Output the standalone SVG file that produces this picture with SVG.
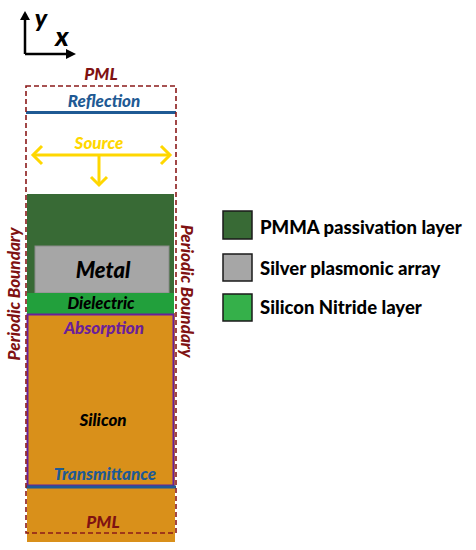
<svg xmlns="http://www.w3.org/2000/svg" width="476" height="550" viewBox="0 0 476 550">
<style>
.lbl{font-family:Lato,"Open Sans","Liberation Sans",sans-serif;font-weight:900;font-style:italic;text-anchor:middle}
.leg{font-family:Lato,"Open Sans","Liberation Sans",sans-serif;font-weight:900;font-size:18.5px;fill:#000}
.pml{fill:#7f1212}
.dash{fill:none;stroke:#8b1a1a;stroke-width:1.6;stroke-dasharray:5,3}
.sq{stroke:#1a1a1a;stroke-width:1.5}
</style>
<rect width="476" height="550" fill="#fff"/>
<g id="axes">
<path d="M25,54 V14 M25,54 H72" fill="none" stroke="#000" stroke-width="2.5"/>
<path d="M20,20 L25,11 L30,20 Z" fill="#000"/>
<path d="M66,49 L76,54 L66,59 Z" fill="#000"/>
<text x="41" y="27" class="lbl" font-size="25" fill="#000">y</text>
<text x="62" y="46" class="lbl" font-size="27" fill="#000">x</text>
</g>
<g id="layers">
<rect x="27" y="313" width="148" height="229" fill="#d9901a"/>
<rect x="27" y="194" width="147" height="102" fill="#386a35"/>
<rect x="35" y="246" width="134" height="47" fill="#a6a6a6" stroke="#8a8a8a" stroke-width="1"/>
<rect x="27" y="293" width="147" height="21" fill="#22a03c"/>
<rect x="27.5" y="314.5" width="146" height="171" fill="none" stroke="#6a1f9a" stroke-width="2"/>
</g>
<g id="monitors">
<line x1="26" y1="112.5" x2="176" y2="112.5" stroke="#1f5a94" stroke-width="3"/>
<line x1="26" y1="487" x2="176" y2="487" stroke="#1f5a94" stroke-width="3"/>
</g>
<g id="pml-box">
<rect x="26" y="86" width="150" height="447" class="dash"/>
</g>
<g id="source">
<g fill="none" stroke="#ffd700" stroke-width="3" stroke-linejoin="miter">
<line x1="33" y1="155" x2="170" y2="155"/>
<polyline points="42,146 33,155 42,164"/>
<polyline points="161,146 170,155 161,164"/>
<line x1="99" y1="155" x2="99" y2="185"/>
<polyline points="91,177 99,185 107,177"/>
</g>
<text x="99" y="149" class="lbl" font-size="17" fill="#ffd700">Source</text>
</g>
<g id="labels">
<text x="101" y="80" class="lbl pml" font-size="17">PML</text>
<text x="104" y="107" class="lbl" font-size="17" fill="#1f5a94">Reflection</text>
<text x="103" y="278" class="lbl" font-size="22" fill="#000">Metal</text>
<text x="101" y="309" class="lbl" font-size="16.5" fill="#000">Dielectric</text>
<text x="104" y="334" class="lbl" font-size="17" fill="#6a1f9a">Absorption</text>
<text x="103" y="426" class="lbl" font-size="17" fill="#000">Silicon</text>
<text x="105" y="480" class="lbl" font-size="17" fill="#1f5a94">Transmittance</text>
<text x="103" y="528" class="lbl pml" font-size="17">PML</text>
<text transform="translate(20,294) rotate(-90)" class="lbl pml" font-size="17">Periodic Boundary</text>
<text transform="translate(181,291) rotate(90)" class="lbl pml" font-size="17">Periodic Boundary</text>
</g>
<g id="legend">
<rect x="223" y="211" width="29" height="28" fill="#386a35" class="sq"/>
<text x="260" y="234" class="leg">PMMA passivation layer</text>
<rect x="223" y="254" width="29" height="27" fill="#a6a6a6" class="sq"/>
<text x="260" y="275" class="leg">Silver plasmonic array</text>
<rect x="223" y="294" width="29" height="27" fill="#35b04a" class="sq"/>
<text x="260" y="314" class="leg">Silicon Nitride layer</text>
</g>
</svg>
